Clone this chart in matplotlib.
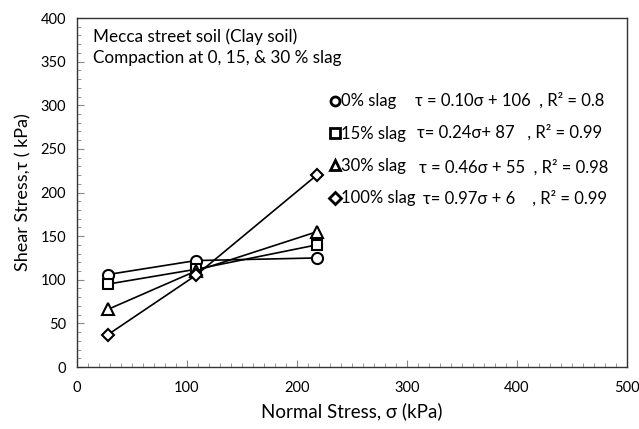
import matplotlib
matplotlib.use('Agg')
import matplotlib.pyplot as plt
from matplotlib.ticker import MultipleLocator

plt.rcParams['font.family'] = ['Lato', 'DejaVu Sans']

# normal stress (kPa)
sigma = [28, 108, 218]
# shear stress (kPa) for each slag content
tau_0 = [106, 122, 125]
tau_15 = [95, 112, 140]
tau_30 = [66, 110, 155]
tau_100 = [37, 105, 220]

labels = ['0% slag', '15% slag', '30% slag', '100% slag']
markers = ['o', 's', '^', 'D']
equations = ['\u03c4 = 0.10\u03c3 + 106  , R\u00b2 = 0.8',
             '\u03c4= 0.24\u03c3+ 87   , R\u00b2 = 0.99',
             '\u03c4 = 0.46\u03c3 + 55  , R\u00b2 = 0.98',
             '\u03c4= 0.97\u03c3 + 6    , R\u00b2 = 0.99']

fig = plt.figure(figsize=(6.39, 4.29), dpi=100)
ax = fig.add_axes([0.1205, 0.1445, 0.8607, 0.8135])

series = [tau_0, tau_15, tau_30, tau_100]
for y, m, lab in zip(series, markers, labels):
    ms = {'o': 8, 's': 7, '^': 8, 'D': 6.5}[m]
    ax.plot(sigma, y, color='black', lw=1.2, marker=m, ms=ms,
            mfc='white', mec='black', mew=1.5, label=lab)

ax.set_xlim(0, 500)
ax.set_ylim(0, 400)
ax.xaxis.set_major_locator(MultipleLocator(100))
ax.xaxis.set_minor_locator(MultipleLocator(10))
ax.yaxis.set_major_locator(MultipleLocator(50))
ax.yaxis.set_minor_locator(MultipleLocator(10))
ax.tick_params(which='both', direction='in', labelsize=10.5, color='#888888')
ax.tick_params(which='major', length=5)
ax.tick_params(which='minor', length=3)
ax.tick_params(axis='x', pad=10)
ax.tick_params(axis='y', pad=8)
for s in ax.spines.values():
    s.set_color('#333333')
    s.set_linewidth(1.0)

ax.set_xlabel('Normal Stress, \u03c3 (kPa)', fontsize=13.5, labelpad=5)
ax.set_ylabel('Shear Stress,\u03c4 ( kPa)', fontsize=13, labelpad=6)

ax.text(0.029, 0.945, 'Mecca street soil (Clay soil)', transform=ax.transAxes,
        fontsize=12.3, va='center')
ax.text(0.029, 0.885, 'Compaction at 0, 15, & 30 % slag', transform=ax.transAxes,
        fontsize=12.3, va='center')

leg = ax.legend(loc='upper left', bbox_to_anchor=(0.4631, 0.784), frameon=False,
                fontsize=12, handlelength=0.4, handletextpad=0.16,
                labelspacing=0.98, borderpad=0, borderaxespad=0)
for h in leg.legend_handles:
    h.set_linestyle('none')
    h.set_markersize(6.5)
    h.set_markeredgewidth(2)

row_x = [0.6145, 0.618, 0.622, 0.629]
row_y = [0.765, 0.673, 0.573, 0.484]
for rx, ry, eq in zip(row_x, row_y, equations):
    ax.text(rx, ry, eq, transform=ax.transAxes, fontsize=12, va='center')

fig.savefig('out.png', dpi=100)
